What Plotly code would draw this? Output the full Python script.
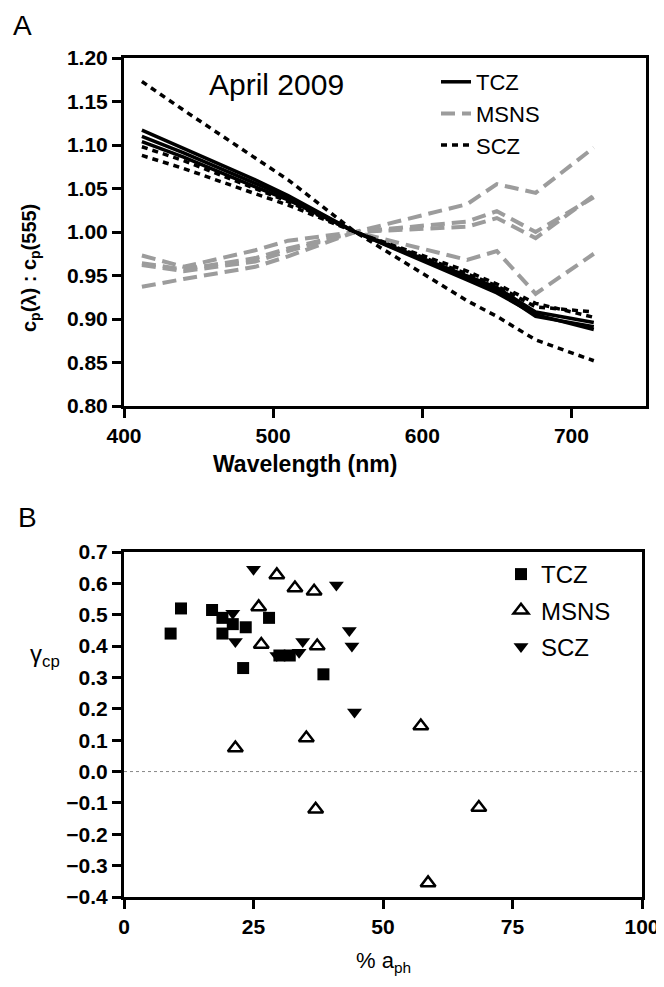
import plotly.graph_objects as go

# ── Panel A: normalised beam attenuation spectra ─────────────────────────────
wavelength = [412, 440, 488, 510, 555, 630, 650, 676, 715]

tcz_spectra = [
    [1.117, 1.096, 1.060, 1.042, 1.0, 0.945, 0.930, 0.905, 0.888],
    [1.110, 1.091, 1.056, 1.040, 1.0, 0.947, 0.933, 0.903, 0.891],
    [1.104, 1.086, 1.052, 1.037, 1.0, 0.950, 0.936, 0.908, 0.896],
]
msns_spectra = [
    [0.973, 0.960, 0.979, 0.990, 1.0, 1.032, 1.055, 1.045, 1.097],
    [0.964, 0.957, 0.970, 0.981, 1.0, 1.012, 1.024, 1.000, 1.040],
    [0.962, 0.955, 0.966, 0.978, 1.0, 1.006, 1.016, 0.993, 1.042],
    [0.937, 0.946, 0.960, 0.972, 1.0, 0.968, 0.978, 0.929, 0.975],
]
scz_spectra = [
    [1.173, 1.140, 1.085, 1.060, 1.0, 0.921, 0.903, 0.876, 0.852],
    [1.098, 1.082, 1.050, 1.035, 1.0, 0.952, 0.938, 0.914, 0.908],
    [1.088, 1.073, 1.044, 1.031, 1.0, 0.955, 0.940, 0.918, 0.902],
]

# ── Panel B: spectral slope vs % a_ph ────────────────────────────────────────
tcz_aph = [9, 11, 17, 19, 19, 21, 23.5, 23, 28, 30, 32, 38.5]
tcz_gamma = [0.44, 0.52, 0.515, 0.49, 0.44, 0.47, 0.46, 0.33, 0.49, 0.37, 0.37, 0.31]
msns_aph = [21.5, 26, 26.5, 29.5, 33, 35.2, 36.7, 37, 37.3, 57.3, 58.7, 68.5]
msns_gamma = [0.075, 0.525, 0.405, 0.627, 0.585, 0.107, 0.575, -0.12, 0.40, 0.145, -0.355, -0.115]
scz_aph = [21, 21.5, 25, 29.5, 33.8, 34.5, 41, 43.5, 44, 44.5]
scz_gamma = [0.505, 0.415, 0.645, 0.37, 0.38, 0.415, 0.595, 0.45, 0.40, 0.19]

# the page body has an 8px margin, so the figure is a bit smaller than the window
PAD = 8
W, H = 664 - PAD, 987 - PAD
FONT = "Liberation Sans"
GRAY = "#9c9c9c"


def px(x):
    return (x - PAD) / W


def py(y):
    return 1 - (y - PAD) / H


fig = go.Figure()

# gray lines go first so the black ones sit on top
for i, y in enumerate(msns_spectra):
    fig.add_trace(go.Scatter(
        x=wavelength, y=y, mode="lines", name="MSNS",
        line=dict(color=GRAY, width=4, dash="14px,7px"),
        legendgroup="MSNS", showlegend=(i == 0), legendrank=2, legend="legend",
    ))
for i, y in enumerate(tcz_spectra):
    fig.add_trace(go.Scatter(
        x=wavelength, y=y, mode="lines", name="TCZ",
        line=dict(color="black", width=3.5),
        legendgroup="TCZ", showlegend=(i == 0), legendrank=1, legend="legend",
    ))
for i, y in enumerate(scz_spectra):
    fig.add_trace(go.Scatter(
        x=wavelength, y=y, mode="lines", name="SCZ",
        line=dict(color="black", width=3.5, dash="6px,5px"),
        legendgroup="SCZ", showlegend=(i == 0), legendrank=3, legend="legend",
    ))

fig.add_trace(go.Scatter(
    x=tcz_aph, y=tcz_gamma, mode="markers", name="TCZ",
    marker=dict(symbol="square", size=12, color="black"),
    xaxis="x2", yaxis="y2", legend="legend2", legendgroup="bT",
))
fig.add_trace(go.Scatter(
    x=msns_aph, y=msns_gamma, mode="markers", name="MSNS",
    marker=dict(symbol="triangle-up-open", size=13, color="black",
                line=dict(width=2.5, color="black")),
    xaxis="x2", yaxis="y2", legend="legend2", legendgroup="bM",
))
fig.add_trace(go.Scatter(
    x=scz_aph, y=scz_gamma, mode="markers", name="SCZ",
    marker=dict(symbol="triangle-down", size=13, color="black"),
    xaxis="x2", yaxis="y2", legend="legend2", legendgroup="bS",
))

axis_style = dict(
    showline=True, linewidth=3, linecolor="black", mirror=True,
    ticks="outside", ticklen=9, tickwidth=3, tickcolor="black",
    showgrid=False, zeroline=False, automargin=False,
    tickfont=dict(family=FONT, size=21, color="black", weight="bold"),
)

fig.update_layout(
    width=W, height=H,
    margin=dict(l=0, r=0, t=0, b=0),
    plot_bgcolor="white", paper_bgcolor="white",
    font=dict(family=FONT, color="black"),
    xaxis=dict(domain=[px(124), px(646)], range=[400, 750],
               tickvals=[400, 500, 600, 700], anchor="y", **axis_style),
    yaxis=dict(domain=[py(406), py(58)], range=[0.8, 1.2],
               dtick=0.05, tick0=0.8, tickformat=".2f", anchor="x", **axis_style),
    xaxis2=dict(domain=[px(124), px(642)], range=[0, 100],
                tickvals=[0, 25, 50, 75, 100], anchor="y2", **axis_style),
    yaxis2=dict(domain=[py(897), py(552)], range=[-0.4, 0.7],
                dtick=0.1, tick0=-0.4, tickformat=".1f", anchor="x2", **axis_style),
    legend=dict(x=px(436), y=py(61), xanchor="left", yanchor="top",
                bgcolor="rgba(0,0,0,0)", font=dict(family=FONT, size=22),
                tracegroupgap=0),
    legend2=dict(x=px(501), y=py(552), xanchor="left", yanchor="top",
                 bgcolor="rgba(0,0,0,0)", font=dict(family=FONT, size=24),
                 tracegroupgap=2),
    showlegend=True,
)

# dotted zero line in panel B
fig.add_shape(type="line", xref="x2", yref="y2", x0=0, x1=100, y0=0, y1=0,
              line=dict(color="#888888", width=1, dash="dot"))

annotations = [
    dict(text="A", x=22, y=25, size=28),
    dict(text="B", x=27, y=517, size=28),
    dict(text="April 2009", x=276, y=85, size=30),
    dict(text="<b>Wavelength (nm)</b>", x=305, y=464, size=23),
    dict(text="γ<sub>cp</sub>", x=45, y=655, size=24),
    dict(text="% a<sub>ph</sub>", x=383, y=962, size=22),
]
for a in annotations:
    fig.add_annotation(text=a["text"], x=px(a["x"]), y=py(a["y"]),
                       xref="paper", yref="paper", showarrow=False,
                       xanchor="center", yanchor="middle",
                       font=dict(family=FONT, size=a["size"], color="black"))

fig.add_annotation(text="<b>c<sub>p</sub>(λ) : c<sub>p</sub>(555)</b>",
                   x=px(30), y=py(268), xref="paper", yref="paper",
                   showarrow=False, textangle=-90, xanchor="center", yanchor="middle",
                   font=dict(family=FONT, size=20, color="black"))

fig.write_html("out.html")
